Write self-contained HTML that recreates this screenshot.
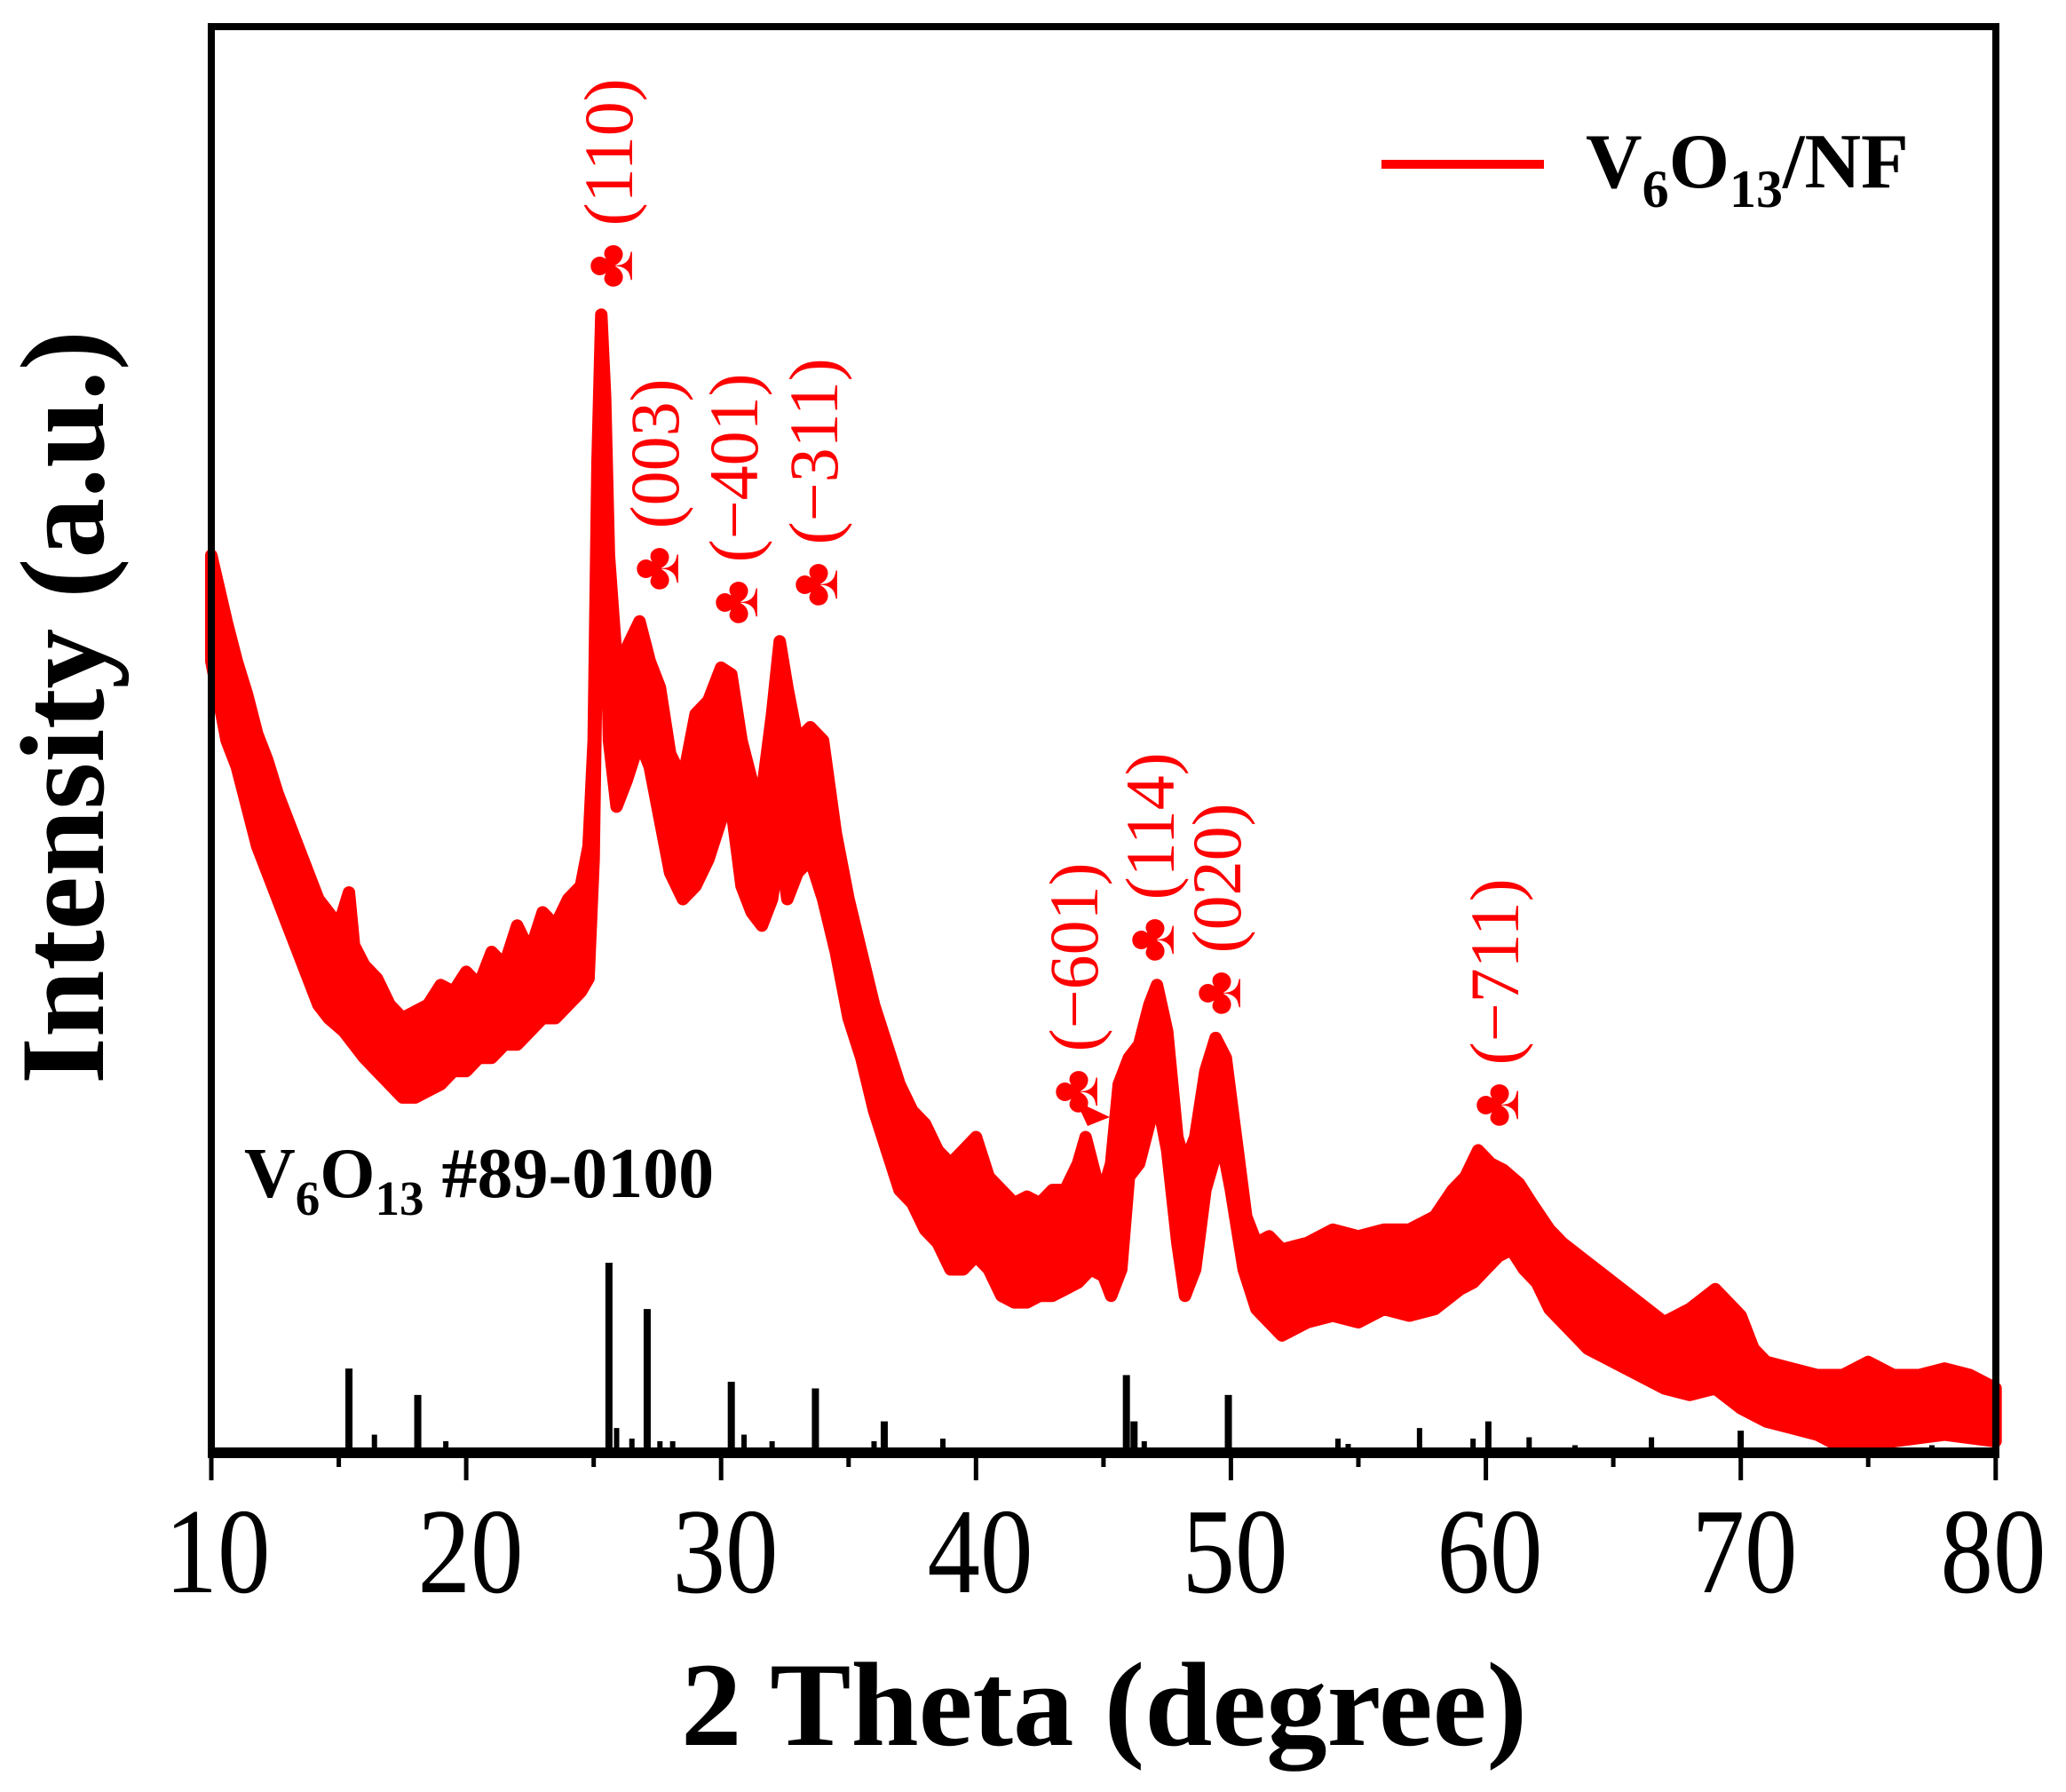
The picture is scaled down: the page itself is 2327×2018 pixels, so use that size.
<!DOCTYPE html>
<html><head><meta charset="utf-8"><style>
html,body{margin:0;padding:0;background:#fff;}
svg{display:block;}
text{font-family:"Liberation Serif",serif;}
</style></head><body>
<svg width="2327" height="2018" viewBox="0 0 2327 2018" xmlns="http://www.w3.org/2000/svg">
<rect width="2327" height="2018" fill="#fff"/>
<g transform="matrix(28.71 0 0 1.489 -49.1 0)">
<polygon fill="#ff0000" stroke="#ff0000" stroke-width="14" vector-effect="non-scaling-stroke" stroke-linejoin="round" points="10,420 10.3,445 10.6,470 11,500 11.4,525 11.8,555 12.2,575 12.6,600 13,620 13.4,640 13.8,660 14.2,680 14.6,690 15,700 15.4,675 15.6,715 16,730 16.5,740 17,760 17.5,770 18,765 18.5,760 19,745 19.5,750 20,735 20.5,745 21,720 21.5,730 22,700 22.5,720 23,690 23.5,700 24,680 24.5,670 24.8,640 25,560 25.15,350 25.3,238 25.45,300 25.6,420 25.9,500 26.3,490 26.8,470 27.2,500 27.6,520 28,570 28.5,590 29,540 29.5,530 30,505 30.4,510 30.8,560 31.2,590 31.6,600 32,540 32.3,485 32.6,520 33,560 33.5,550 34,560 34.5,630 35,680 35.5,720 36,760 36.5,790 37,820 37.5,840 38,850 38.5,870 39,880 39.5,870 40,860 40.5,890 41,900 41.5,910 42,905 42.5,910 43,900 43.5,900 44,880 44.3,860 44.7,890 45,900 45.3,880 45.6,820 46,800 46.4,790 46.8,760 47.1,745 47.5,780 47.9,860 48.2,880 48.6,860 49,810 49.4,785 49.8,800 50.2,860 50.6,920 51,940 51.5,935 52,945 53,940 54,930 55,935 56,930 57,930 58,920 58.7,900 59.2,890 59.7,870 60.2,880 60.7,885 61.3,895 61.8,910 62.5,930 63,940 64,955 65,970 66,985 67,1000 68,990 69,975 69.5,985 70,995 70.5,1020 71,1030 72,1035 73,1040 74,1040 75,1030 76,1040 77,1040 78,1035 79,1040 80,1050 80,1090 78,1085 76,1090 74,1095 73,1085 72,1080 71,1075 70.5,1070 70,1065 69,1050 68,1055 67,1050 66,1040 65,1030 64,1020 63,1000 62.5,990 62,970 61.5,960 61,945 60.5,950 60,960 59.5,970 59,975 58,990 57,995 56,990 55,1000 54,995 53,1000 52,1010 51.5,1000 51,990 50.5,960 50,900 49.6,860 49.3,880 49,900 48.6,960 48.2,980 47.9,940 47.5,870 47.1,830 46.8,850 46.4,880 46,890 45.7,960 45.3,980 45,965 44.5,960 44,970 43.5,975 43,980 42.5,980 42,985 41.5,985 41,980 40.5,960 40,950 39.5,960 39,960 38.5,940 38,930 37.5,910 37,900 36.5,870 36,840 35.5,800 35,770 34.5,720 34,680 33.5,650 33,660 32.6,680 32.3,640 32,680 31.6,700 31.2,690 30.8,670 30.4,610 30,620 29.5,650 29,670 28.5,680 28,660 27.6,620 27.2,580 26.8,560 26.3,590 25.9,610 25.6,560 25.45,420 25.3,330 25.15,450 25,650 24.8,740 24.5,750 24,760 23.5,770 23,770 22.5,780 22,790 21.5,790 21,800 20.5,800 20,810 19.5,810 19,820 18.5,825 18,830 17.5,830 17,820 16.5,810 16,800 15.6,790 15.2,780 14.6,770 14.2,760 13.8,740 13.4,720 13,700 12.6,680 12.2,660 11.8,640 11.4,610 11,580 10.6,560 10.3,530 10,500"/>
<g stroke="#000">
<line vector-effect="non-scaling-stroke" stroke-width="8" x1="15.4" y1="1099" x2="15.4" y2="1035"/>
<line vector-effect="non-scaling-stroke" stroke-width="6" x1="16.4" y1="1099" x2="16.4" y2="1085"/>
<line vector-effect="non-scaling-stroke" stroke-width="8" x1="18.1" y1="1099" x2="18.1" y2="1055"/>
<line vector-effect="non-scaling-stroke" stroke-width="6" x1="19.2" y1="1099" x2="19.2" y2="1090"/>
<line vector-effect="non-scaling-stroke" stroke-width="8" x1="25.6" y1="1099" x2="25.6" y2="955"/>
<line vector-effect="non-scaling-stroke" stroke-width="6" x1="25.9" y1="1099" x2="25.9" y2="1080"/>
<line vector-effect="non-scaling-stroke" stroke-width="6" x1="26.5" y1="1099" x2="26.5" y2="1088"/>
<line vector-effect="non-scaling-stroke" stroke-width="8" x1="27.1" y1="1099" x2="27.1" y2="990"/>
<line vector-effect="non-scaling-stroke" stroke-width="6" x1="27.6" y1="1099" x2="27.6" y2="1090"/>
<line vector-effect="non-scaling-stroke" stroke-width="6" x1="28.1" y1="1099" x2="28.1" y2="1090"/>
<line vector-effect="non-scaling-stroke" stroke-width="8" x1="30.4" y1="1099" x2="30.4" y2="1045"/>
<line vector-effect="non-scaling-stroke" stroke-width="6" x1="30.9" y1="1099" x2="30.9" y2="1085"/>
<line vector-effect="non-scaling-stroke" stroke-width="6" x1="32" y1="1099" x2="32" y2="1090"/>
<line vector-effect="non-scaling-stroke" stroke-width="8" x1="33.7" y1="1099" x2="33.7" y2="1050"/>
<line vector-effect="non-scaling-stroke" stroke-width="6" x1="36.0" y1="1099" x2="36.0" y2="1090"/>
<line vector-effect="non-scaling-stroke" stroke-width="8" x1="36.4" y1="1099" x2="36.4" y2="1075"/>
<line vector-effect="non-scaling-stroke" stroke-width="6" x1="38.7" y1="1099" x2="38.7" y2="1088"/>
<line vector-effect="non-scaling-stroke" stroke-width="8" x1="45.9" y1="1099" x2="45.9" y2="1040"/>
<line vector-effect="non-scaling-stroke" stroke-width="8" x1="46.2" y1="1099" x2="46.2" y2="1075"/>
<line vector-effect="non-scaling-stroke" stroke-width="6" x1="46.6" y1="1099" x2="46.6" y2="1090"/>
<line vector-effect="non-scaling-stroke" stroke-width="8" x1="49.9" y1="1099" x2="49.9" y2="1055"/>
<line vector-effect="non-scaling-stroke" stroke-width="6" x1="54.2" y1="1099" x2="54.2" y2="1088"/>
<line vector-effect="non-scaling-stroke" stroke-width="6" x1="54.6" y1="1099" x2="54.6" y2="1092"/>
<line vector-effect="non-scaling-stroke" stroke-width="6" x1="57.4" y1="1099" x2="57.4" y2="1080"/>
<line vector-effect="non-scaling-stroke" stroke-width="6" x1="59.5" y1="1099" x2="59.5" y2="1088"/>
<line vector-effect="non-scaling-stroke" stroke-width="7" x1="60.1" y1="1099" x2="60.1" y2="1075"/>
<line vector-effect="non-scaling-stroke" stroke-width="6" x1="61.7" y1="1099" x2="61.7" y2="1087"/>
<line vector-effect="non-scaling-stroke" stroke-width="6" x1="63.5" y1="1099" x2="63.5" y2="1093"/>
<line vector-effect="non-scaling-stroke" stroke-width="6" x1="66.5" y1="1099" x2="66.5" y2="1087"/>
<line vector-effect="non-scaling-stroke" stroke-width="7" x1="70" y1="1099" x2="70" y2="1082"/>
<line vector-effect="non-scaling-stroke" stroke-width="6" x1="77.5" y1="1099" x2="77.5" y2="1093"/>
</g>
</g>
<rect x="238" y="30" width="2010" height="1606" fill="none" stroke="#000" stroke-width="8"/>
<line x1="234" y1="1636" x2="2252" y2="1636" stroke="#000" stroke-width="12"/>
<g stroke="#000" stroke-width="5">
<line x1="238" y1="1636" x2="238" y2="1667"/>
<line x1="381.6" y1="1636" x2="381.6" y2="1652"/>
<line x1="525.1" y1="1636" x2="525.1" y2="1667"/>
<line x1="668.7" y1="1636" x2="668.7" y2="1652"/>
<line x1="812.2" y1="1636" x2="812.2" y2="1667"/>
<line x1="955.8" y1="1636" x2="955.8" y2="1652"/>
<line x1="1099.3" y1="1636" x2="1099.3" y2="1667"/>
<line x1="1242.9" y1="1636" x2="1242.9" y2="1652"/>
<line x1="1386.4" y1="1636" x2="1386.4" y2="1667"/>
<line x1="1530" y1="1636" x2="1530" y2="1652"/>
<line x1="1673.6" y1="1636" x2="1673.6" y2="1667"/>
<line x1="1817.1" y1="1636" x2="1817.1" y2="1652"/>
<line x1="1960.7" y1="1636" x2="1960.7" y2="1667"/>
<line x1="2104.2" y1="1636" x2="2104.2" y2="1652"/>
<line x1="2247.8" y1="1636" x2="2247.8" y2="1667"/>
</g>
<g font-size="137" text-anchor="middle">
<text x="245" y="1793" textLength="119" lengthAdjust="spacingAndGlyphs">10</text>
<text x="530" y="1793" textLength="119" lengthAdjust="spacingAndGlyphs">20</text>
<text x="817" y="1793" textLength="119" lengthAdjust="spacingAndGlyphs">30</text>
<text x="1104" y="1793" textLength="119" lengthAdjust="spacingAndGlyphs">40</text>
<text x="1391" y="1793" textLength="119" lengthAdjust="spacingAndGlyphs">50</text>
<text x="1678" y="1793" textLength="119" lengthAdjust="spacingAndGlyphs">60</text>
<text x="1965" y="1793" textLength="119" lengthAdjust="spacingAndGlyphs">70</text>
<text x="2245" y="1793" textLength="119" lengthAdjust="spacingAndGlyphs">80</text>
</g>
<text x="767" y="1965" font-size="135" font-weight="bold" textLength="953" lengthAdjust="spacingAndGlyphs">2 Theta (degree)</text>
<text transform="translate(116,1221) rotate(-90)" font-size="135" font-weight="bold" textLength="849" lengthAdjust="spacingAndGlyphs">Intensity (a.u.)</text>
<line x1="1556" y1="185" x2="1739" y2="185" stroke="#ff0000" stroke-width="10"/>
<text x="1786" y="211" font-size="88" font-weight="bold">V<tspan font-size="60" dy="22">6</tspan><tspan dy="-22">O</tspan><tspan font-size="60" dy="22">13</tspan><tspan dy="-22">/NF</tspan></text>
<text x="275" y="1348" font-size="80" font-weight="bold">V<tspan font-size="55" dy="20">6</tspan><tspan dy="-20">O</tspan><tspan font-size="55" dy="20">13</tspan><tspan dy="-20"> #89-0100</tspan></text>
<g fill="#ff0000" font-size="78">
<text transform="translate(712,325) rotate(-90)">♣ (110)</text>
<text transform="translate(764,666) rotate(-90)">♣ (003)</text>
<text transform="translate(853,704) rotate(-90)">♣ (−401)</text>
<text transform="translate(943,684) rotate(-90)">♣ (−311)</text>
<text transform="translate(1236,1255) rotate(-90)">♣ (−601)</text>
<text transform="translate(1322,1084) rotate(-90)">♣ (114)</text>
<text transform="translate(1397,1144) rotate(-90)">♣ (020)</text>
<text transform="translate(1710,1270) rotate(-90)">♣ (−711)</text>
<polygon points="1212,1240 1250,1258 1225,1268"/>
</g>
</svg>
</body></html>
